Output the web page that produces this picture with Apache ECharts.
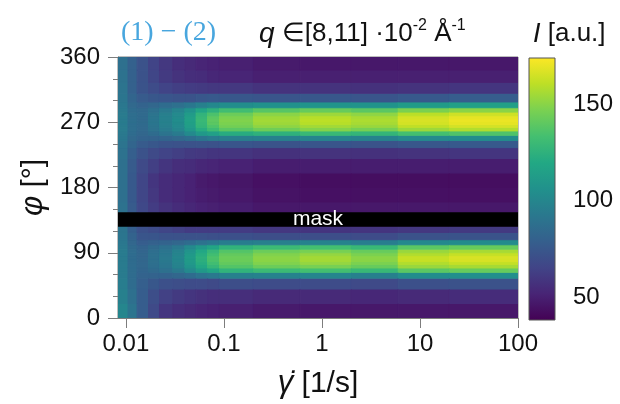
<!DOCTYPE html>
<html>
<head>
<meta charset="utf-8">
<script src="https://cdn.jsdelivr.net/npm/echarts@6/dist/echarts.min.js"></script>
<style>
  html, body { margin: 0; padding: 0; background: #fff; }
  #chart { width: 620px; height: 404px; }
</style>
</head>
<body>
<div id="chart"></div>
<script>
// shear-rate bin edges (1/s) and azimuth bin edges (deg)
const shearEdges = [0.0083, 0.0105, 0.013, 0.017, 0.022, 0.03, 0.04, 0.052, 0.068, 0.09, 0.2, 0.6, 2, 6, 20, 100];
const phiEdges = [0, 20, 40, 55, 63, 69, 74, 78, 82, 86, 90, 95, 101, 108, 118, 127, 145, 160, 180, 200,
                  220, 235, 245, 252, 258, 263, 267, 271, 275, 279, 284, 290, 298, 310, 325, 342, 360];
// intensity, one list per shear bin, from phi = 0 upwards
const intensity = [
  [100,97,95,94,94,94,94,94,94,94, 94,93,92,91,90,89,89,88,88,88, 89,90,92,93,94,94,94,94,94,94, 93,92,91,90,89,88],
  [90,88,86,86,86,86,86,86,86,86, 86,85,83,81,79,77,77,76,76,77, 79,82,84,86,87,87,87,87,87,87, 86,84,82,80,80,80],
  [78,78,79,81,82,83,83,83,83,83, 82,81,78,74,71,68,67,66,66,68, 72,77,81,83,84,85,85,85,85,85, 84,81,77,73,72,72],
  [68,70,75,81,85,87,88,88,88,88, 87,85,80,74,69,64,62,60,59,63, 68,75,81,86,89,90,91,91,91,90, 88,83,75,69,66,65],
  [59,64,71,81,88,91,92,93,93,92, 91,88,81,72,66,60,58,55,55,59, 65,73,82,90,94,96,97,97,97,96, 93,86,74,65,61,60],
  [56,61,70,83,93,98,99,100,100,99, 98,93,83,72,64,57,55,53,53,56, 63,72,84,94,100,102,103,104,103,102, 99,88,73,63,58,56],
  [54,59,69,86,102,108,111,112,112,111, 108,102,86,72,62,55,53,51,51,55, 61,72,87,102,110,113,114,115,114,112, 107,92,73,62,56,54],
  [52,57,69,90,111,119,122,124,124,122, 119,111,89,72,62,54,51,49,48,53, 60,73,91,111,122,127,128,129,128,126, 118,97,75,61,55,52],
  [51,56,68,93,118,128,132,135,135,132, 128,118,92,71,62,53,50,48,47,52, 59,72,94,115,131,136,139,140,139,135, 125,101,76,60,53,51],
  [50,56,70,97,126,137,141,143,143,141, 137,126,95,71,62,52,49,47,46,51, 59,74,96,122,139,145,147,148,147,143, 132,104,75,60,52,50],
  [48,54,69,98,130,143,148,150,150,148, 143,130,96,70,60,50,47,45,44,49, 57,73,97,125,144,151,154,155,154,150, 138,106,74,58,50,48],
  [47,54,69,100,133,146,152,155,155,152, 146,133,98,70,59,50,47,44,43,49, 58,74,99,129,149,155,159,160,159,154, 142,108,75,58,50,47],
  [47,53,68,97,129,142,147,150,150,147, 142,129,95,69,59,50,47,44,43,49, 57,73,98,127,146,153,156,157,156,151, 139,107,74,57,50,47],
  [47,54,71,104,139,153,158,162,162,158, 153,139,101,72,60,50,47,44,43,49, 58,75,102,133,154,161,165,166,165,160, 147,112,76,58,50,47],
  [47,55,72,105,142,156,162,166,166,162, 156,142,103,73,61,50,47,44,43,49, 59,76,104,136,158,165,169,170,169,164, 150,114,78,59,50,47]
];
const maskRange = [126, 146];
const xTicks = [0.01, 0.1, 1, 10, 100];
const xTickLabels = ['0.01', '0.1', '1', '10', '100'];
const barRange = [38, 174];
const barTicks = [50, 100, 150];
const barMinorTicks = [40, 60, 70, 80, 90, 110, 120, 130, 140, 160, 170];

const viridis = ['#440154', '#482475', '#414487', '#355f8d', '#2a788e', '#21918c',
                 '#22a884', '#44bf70', '#7ad151', '#bddf26', '#fde725'];
const FONT = "'Liberation Sans', Arial, sans-serif";
const AXIS_GREY = '#7d7d7d';

const cells = [];
intensity.forEach((col, i) => {
  col.forEach((v, j) => {
    cells.push([shearEdges[i], shearEdges[i + 1], phiEdges[j], phiEdges[j + 1], v]);
  });
});

function renderCell(params, api) {
  const p0 = api.coord([api.value(0), api.value(3)]);
  const p1 = api.coord([api.value(1), api.value(2)]);
  const c = api.visual('color');
  return {
    type: 'rect',
    shape: { x: p0[0], y: p0[1], width: p1[0] - p0[0], height: p1[1] - p0[1] },
    style: { fill: c, stroke: c, lineWidth: 1 }
  };
}

function renderMask(params, api) {
  const cs = params.coordSys;
  const top = api.coord([shearEdges[0], api.value(1)])[1];
  const bottom = api.coord([shearEdges[0], api.value(0)])[1];
  return {
    type: 'group',
    children: [
      { type: 'rect', shape: { x: cs.x, y: top, width: cs.width, height: bottom - top }, style: { fill: '#000' } },
      { type: 'text', x: cs.x + cs.width / 2, y: (top + bottom) / 2,
        style: { text: 'mask', fill: '#fff', fontSize: 21, fontFamily: FONT, align: 'center', verticalAlign: 'middle' } }
    ]
  };
}

function renderBar(params, api) {
  const cs = params.coordSys;
  const top = api.coord([0, api.value(1)])[1];
  const bottom = api.coord([0, api.value(0)])[1];
  const stops = viridis.map((c, k) => ({ offset: k / (viridis.length - 1), color: c }));
  return {
    type: 'rect',
    shape: { x: cs.x, y: top, width: cs.width, height: bottom - top },
    style: { fill: new echarts.graphic.LinearGradient(0, 1, 0, 0, stops), stroke: '#555', lineWidth: 1 }
  };
}

const chart = echarts.init(document.getElementById('chart'));
chart.setOption({
  animation: false,
  backgroundColor: '#fff',
  textStyle: { fontFamily: FONT },
  title: [
    { text: '(1) − (2)', left: 116, top: 14,
      textStyle: { fontFamily: "'Liberation Serif', 'DejaVu Serif', serif", fontSize: 28, fontWeight: 'normal', color: '#48a6de' } },
    { text: '{q|q} ∈[8,11] ·10{s|-2} Å{s|-1}', left: 254, top: 13,
      textStyle: { fontFamily: FONT, fontSize: 26, fontWeight: 'normal', color: '#111', lineHeight: 32,
        rich: {
          q: { fontStyle: 'italic', fontSize: 28, fontFamily: FONT, color: '#111', lineHeight: 32 },
          s: { fontSize: 16, fontFamily: FONT, color: '#111', lineHeight: 16, verticalAlign: 'top' }
        } } },
    { text: '{i|I} [a.u.]', left: 528, top: 13,
      textStyle: { fontFamily: FONT, fontSize: 26, fontWeight: 'normal', color: '#111', lineHeight: 32,
        rich: { i: { fontStyle: 'italic', fontSize: 27, fontFamily: FONT, color: '#111', lineHeight: 32 } } } }
  ],
  grid: [
    { left: 118, top: 57, width: 400, height: 262, show: true, borderColor: AXIS_GREY, borderWidth: 1, backgroundColor: 'transparent' },
    { left: 529, top: 58, width: 26, height: 262, show: false },
    { left: 529, top: 58, width: 26, height: 262, show: false }
  ],
  xAxis: [
    { type: 'log', gridIndex: 0, logBase: 10, min: shearEdges[0], max: shearEdges[shearEdges.length - 1],
      axisLine: { show: true, onZero: false, lineStyle: { color: AXIS_GREY } },
      axisTick: { show: true, customValues: xTicks, length: 10, lineStyle: { color: AXIS_GREY } },
      axisLabel: { customValues: xTicks, fontSize: 24, color: '#111', margin: 14, fontFamily: FONT,
        formatter: v => xTickLabels[Math.round(Math.log10(v)) + 2] },
      splitLine: { show: false }, minorTick: { show: false }, minorSplitLine: { show: false },
      name: '{g|γ̇} [1/s]', nameLocation: 'middle', nameGap: 50,
      nameTextStyle: { fontSize: 30, color: '#111', fontFamily: FONT,
        rich: { g: { fontStyle: 'italic', fontSize: 31, fontFamily: FONT, color: '#111' } } } },
    { type: 'value', gridIndex: 1, min: 0, max: 1, show: false },
    { type: 'value', gridIndex: 2, min: 0, max: 1, show: false }
  ],
  yAxis: [
    { type: 'value', gridIndex: 0, min: 0, max: 360, interval: 90,
      axisLine: { show: true, onZero: false, lineStyle: { color: AXIS_GREY } },
      axisTick: { show: true, length: 10, lineStyle: { color: AXIS_GREY } },
      minorTick: { show: true, splitNumber: 3, length: 5, lineStyle: { color: AXIS_GREY } },
      axisLabel: { fontSize: 24, color: '#111', margin: 18, fontFamily: FONT },
      splitLine: { show: false },
      name: '{p|φ} [°]', nameLocation: 'middle', nameGap: 66, nameRotate: 90,
      nameTextStyle: { fontSize: 30, color: '#111', fontFamily: FONT,
        rich: { p: { fontStyle: 'italic', fontSize: 31, fontFamily: FONT, color: '#111' } } } },
    { type: 'value', gridIndex: 1, min: barRange[0], max: barRange[1], position: 'right',
      axisLine: { show: false },
      axisTick: { show: true, customValues: barTicks, length: 10, lineStyle: { color: '#555' } },
      axisLabel: { customValues: barTicks, fontSize: 24, color: '#111', margin: 18, fontFamily: FONT },
      splitLine: { show: false } },
    { type: 'value', gridIndex: 2, min: barRange[0], max: barRange[1], position: 'right',
      axisLine: { show: false },
      axisTick: { show: true, customValues: barMinorTicks, length: 5, lineStyle: { color: '#555' } },
      axisLabel: { show: false },
      splitLine: { show: false } }
  ],
  visualMap: {
    type: 'continuous', show: false, seriesIndex: 0, dimension: 4,
    min: barRange[0], max: barRange[1], inRange: { color: viridis }
  },
  series: [
    { type: 'custom', xAxisIndex: 0, yAxisIndex: 0, data: cells, renderItem: renderCell,
      encode: { x: [0, 1], y: [2, 3] }, clip: true, silent: true },
    { type: 'custom', xAxisIndex: 0, yAxisIndex: 0, data: [maskRange], renderItem: renderMask,
      encode: { y: [0, 1] }, silent: true, z: 5 },
    { type: 'custom', xAxisIndex: 1, yAxisIndex: 1, data: [barRange], renderItem: renderBar,
      encode: { y: [0, 1] }, silent: true }
  ]
});
</script>
</body>
</html>
